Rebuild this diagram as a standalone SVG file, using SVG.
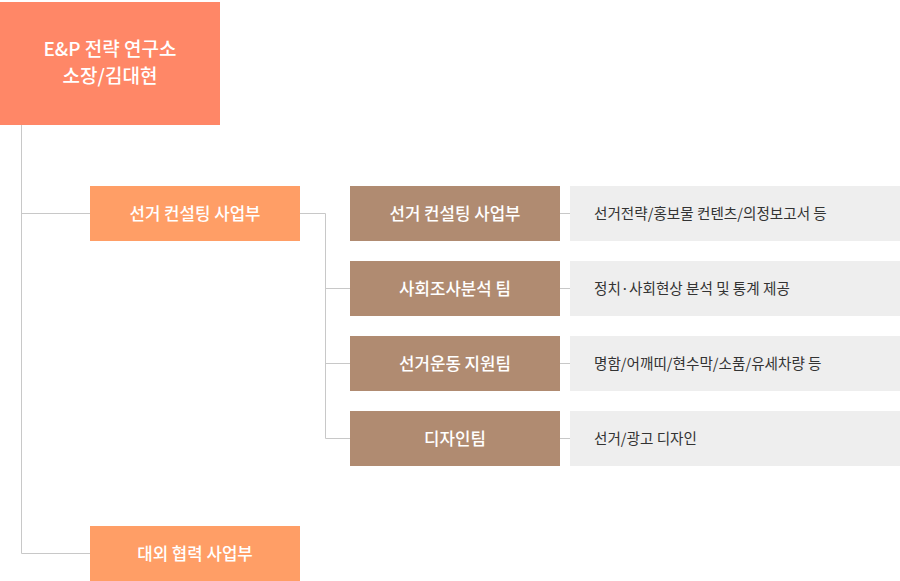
<svg xmlns="http://www.w3.org/2000/svg" width="900" height="581" viewBox="0 0 900 581">
<style>
.ln{stroke:#c8c8c8;stroke-width:1;fill:none}
.top{fill:#ff8767}
.dept{fill:#ff9e66}
.team{fill:#b08b71}
.desc{fill:#eeeeee}
.wt{font-family:"Noto Sans CJK KR","Noto Sans",sans-serif;fill:#ffffff;text-anchor:middle;font-size:16.8px;font-weight:500}
.tt{font-family:"Noto Sans CJK KR","Noto Sans",sans-serif;fill:#ffffff;text-anchor:middle;font-size:19px;font-weight:500}
.dt{font-family:"Noto Sans CJK KR","Noto Sans",sans-serif;fill:#333333;font-size:14.6px}
</style>
<rect width="900" height="581" fill="#ffffff"/>
<g id="connectors">
<path class="ln" d="M21.5 125V553.5H90M21.5 213.5H90"/>
<path class="ln" d="M300 213.5H325.5V438.5H350M325.5 288.5H350M325.5 363.5H350"/>
<path class="ln" d="M560 213.5H570M560 288.5H570M560 363.5H570M560 438.5H570"/>
</g>
<g id="director">
<rect class="top" x="0" y="2" width="220" height="123"/>
<text class="tt" x="110" y="55.5">E&amp;P 전략 연구소</text>
<text class="tt" x="110" y="83.2">소장/김대현</text>
</g>
<g id="dept-consulting">
<rect class="dept" x="90" y="186" width="210" height="55"/>
<text class="wt" x="195" y="219.5">선거 컨설팅 사업부</text>
</g>
<g id="dept-external">
<rect class="dept" x="90" y="526" width="210" height="55"/>
<text class="wt" x="195" y="559.5">대외 협력 사업부</text>
</g>
<g id="team1">
<rect class="team" x="350" y="186" width="210" height="55"/>
<text class="wt" x="455" y="219.5">선거 컨설팅 사업부</text>
</g>
<g id="team2">
<rect class="team" x="350" y="261" width="210" height="55"/>
<text class="wt" x="455" y="294.5">사회조사분석 팀</text>
</g>
<g id="team3">
<rect class="team" x="350" y="336" width="210" height="55"/>
<text class="wt" x="455" y="369.5">선거운동 지원팀</text>
</g>
<g id="team4">
<rect class="team" x="350" y="411" width="210" height="55"/>
<text class="wt" x="455" y="444.5">디자인팀</text>
</g>
<g id="desc1">
<rect class="desc" x="570" y="186" width="330" height="55"/>
<text class="dt" x="594" y="218.5">선거전략/홍보물 컨텐츠/의정보고서 등</text>
</g>
<g id="desc2">
<rect class="desc" x="570" y="261" width="330" height="55"/>
<text class="dt" x="594" y="293.5">정치·사회현상 분석 및 통계 제공</text>
</g>
<g id="desc3">
<rect class="desc" x="570" y="336" width="330" height="55"/>
<text class="dt" x="594" y="368.5">명함/어깨띠/현수막/소품/유세차량 등</text>
</g>
<g id="desc4">
<rect class="desc" x="570" y="411" width="330" height="55"/>
<text class="dt" x="594" y="443.5">선거/광고 디자인</text>
</g>
</svg>
